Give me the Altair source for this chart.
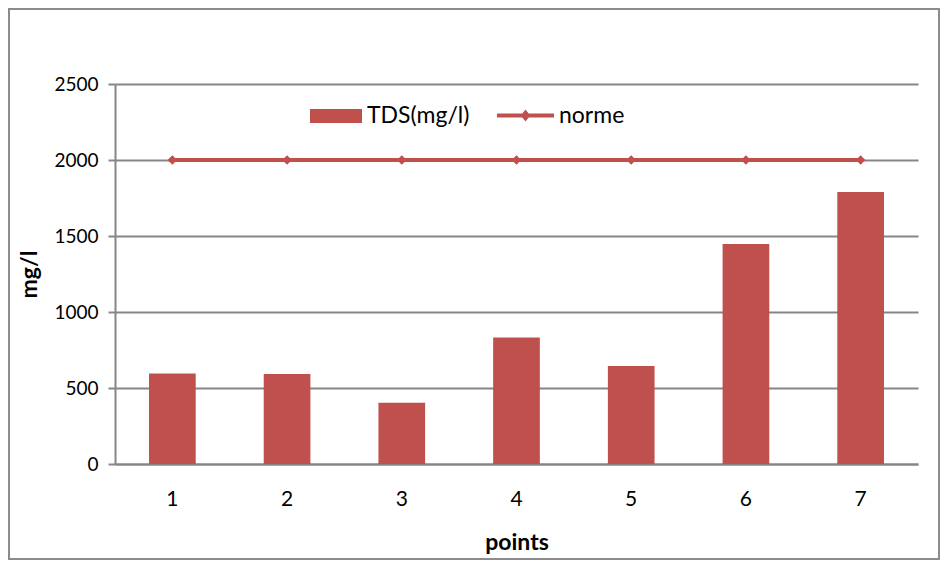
import altair as alt
import pandas as pd

points = ["1", "2", "3", "4", "5", "6", "7"]
tds = [596, 592, 403, 832, 645, 1447, 1789]
norme = [2000, 2000, 2000, 2000, 2000, 2000, 2000]
y_ticks = [0, 500, 1000, 1500, 2000, 2500]

RED = "#C0504D"
GRAY = "#868686"
FONT = "Lato"

df = pd.DataFrame({"points": points, "tds": tds, "norme": norme})
df["s1"] = "TDS(mg/l)"
df["s2"] = "norme"

x_enc = alt.X(
    "points:O",
    sort=points,
    scale=alt.Scale(paddingInner=0.593, paddingOuter=0.2965),
    axis=alt.Axis(
        title="points", labelAngle=0, ticks=False, grid=False,
        domainColor=GRAY, domainWidth=2, labelPadding=24, labelFontSize=21,
        titlePadding=22,
    ),
)

y_scale = alt.Scale(domain=[0, 2500], nice=False)
y_axis = alt.Axis(
    title="mg/l", values=y_ticks, format="d", grid=True, gridColor=GRAY,
    gridWidth=2, domainColor=GRAY, domainWidth=2, tickColor=GRAY, tickWidth=2,
    tickSize=7, labelPadding=10, titlePadding=12, labelFontSize=19,
)

bars = alt.Chart(df).mark_bar(color=RED).encode(
    x=x_enc,
    y=alt.Y("tds:Q", scale=y_scale, axis=y_axis),
    color=alt.Color(
        "s1:N",
        scale=alt.Scale(range=[RED]),
        legend=alt.Legend(
            title=None, orient="none", legendX=195, legendY=6,
            symbolType="M-1,-0.27L1,-0.27L1,0.27L-1,0.27Z", symbolSize=2704,
            symbolStrokeWidth=0, labelFontSize=23, labelOffset=5, padding=0,
        ),
    ),
)

line = alt.Chart(df).mark_line(
    color=RED, strokeWidth=4,
    point=alt.OverlayMarkDef(shape="diamond", size=45, filled=True, color=RED),
).encode(
    x=alt.X("points:O", sort=points),
    y=alt.Y("norme:Q", scale=y_scale),
    stroke=alt.Stroke(
        "s2:N",
        scale=alt.Scale(range=[RED]),
        legend=alt.Legend(
            title=None, orient="none", legendX=380, legendY=1,
            symbolType="M-1,0L1,0M-0.08,0L0,-0.1L0.08,0L0,0.1Z", symbolSize=3249,
            symbolStrokeWidth=4, symbolFillColor=RED, labelFontSize=23,
            labelOffset=3, padding=0,
        ),
    ),
)

frame_df = pd.DataFrame({"f": [0]})
frame = alt.Chart(frame_df).mark_rect(
    fill="transparent", stroke="#8C8C8C", strokeWidth=2, clip=False
).encode(
    x=alt.value(-106), x2=alt.value(824), y=alt.value(-75), y2=alt.value(475)
)

chart = alt.layer(frame, bars, line).resolve_scale(
    color="independent", stroke="independent"
).properties(
    width=803, height=380,
    autosize=alt.AutoSizeParams(type="none"),
    padding={"left": 107, "top": 76, "right": 22, "bottom": 97},
    background="white",
).configure_view(stroke=None).configure_axis(
    labelFont=FONT, titleFont=FONT, titleFontSize=23,
    labelColor="black", titleColor="black", titleFontWeight="bold",
).configure_legend(labelFont=FONT, labelColor="black")

chart.save("out.html", embed_options={"renderer": "svg", "actions": False})
